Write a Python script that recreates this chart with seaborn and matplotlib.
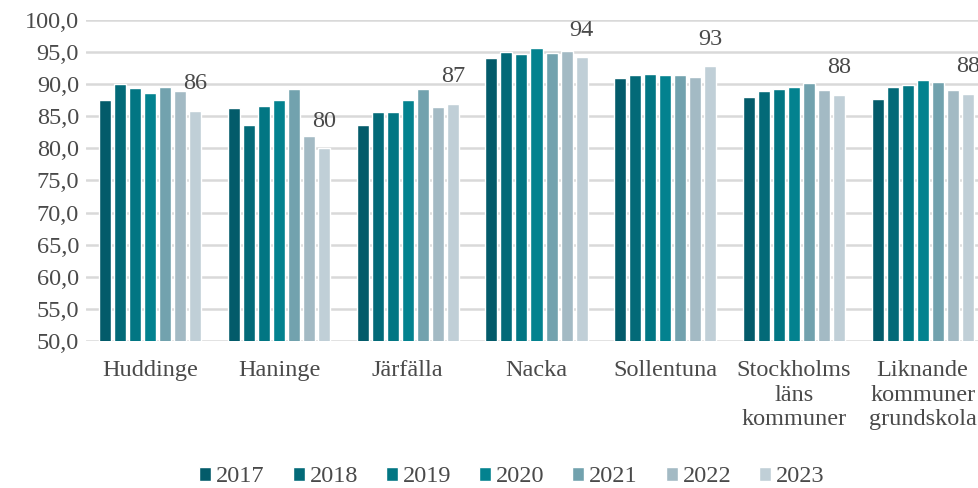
import matplotlib
matplotlib.use("Agg")
import matplotlib.pyplot as plt
import seaborn as sns
import pandas as pd
from matplotlib.ticker import FuncFormatter, MultipleLocator

# values
kommuner = ["Huddinge", "Haninge", "Järfälla", "Nacka", "Sollentuna",
            "Stockholms\nläns\nkommuner", "Liknande\nkommuner\ngrundskola"]
years = ["2017", "2018", "2019", "2020", "2021", "2022", "2023"]
v2017 = [87.5, 86.3, 83.6, 94.1, 91.0, 88.0, 87.7]
v2018 = [90.0, 83.6, 85.7, 95.0, 91.4, 88.9, 89.6]
v2019 = [89.4, 86.6, 85.7, 94.7, 91.6, 89.3, 89.9]
v2020 = [88.6, 87.5, 87.5, 95.6, 91.4, 89.6, 90.7]
v2021 = [89.6, 89.3, 89.3, 94.9, 91.4, 90.2, 90.3]
v2022 = [88.9, 81.9, 86.4, 95.2, 91.1, 89.1, 89.1]
v2023 = [85.8, 80.0, 86.9, 94.2, 92.8, 88.3, 88.5]
colors = ["#035B6A", "#036A78", "#027683", "#03828F", "#72A2AE", "#A3BAC4", "#C0CFD7"]

series = [v2017, v2018, v2019, v2020, v2021, v2022, v2023]
df = pd.DataFrame(
    [(k, y, vals[i]) for y, vals in zip(years, series) for i, k in enumerate(kommuner)],
    columns=["kommun", "year", "value"],
)

sns.set_style("white")
plt.rcParams["font.family"] = ["Liberation Serif", "DejaVu Serif"]
text_color = "#4A4A4A"
fs = 17.5

fig = plt.figure(figsize=(9.79, 4.88), dpi=100)
ax = fig.add_axes([86 / 979, 1 - 341 / 488, 901 / 979, 321 / 488])

sns.barplot(data=df, x="kommun", y="value", hue="year", palette=colors,
            width=0.816, gap=0.2, saturation=1, ax=ax, legend=True,
            order=kommuner, hue_order=years)

ax.set_ylim(50, 100)
ax.set_xlim(-0.5, len(kommuner) - 0.5)
ax.yaxis.set_major_locator(MultipleLocator(5))
ax.yaxis.set_major_formatter(FuncFormatter(lambda v, p: f"{v:.1f}".replace(".", ",")))
ax.grid(axis="y", color="#D9D9D9", linewidth=1.8)
ax.set_axisbelow(True)
for s in ax.spines.values():
    s.set_visible(False)
ax.tick_params(axis="both", length=0, labelsize=fs, colors=text_color)
ax.tick_params(axis="y", pad=5)
ax.tick_params(axis="x", pad=14)
for lbl in ax.get_xticklabels():
    lbl.set_linespacing(1.2)
ax.set_xlabel("")
ax.set_ylabel("")

# data labels on the 2023 series
last = ax.containers[-1]
for bar, v in zip(last, v2023):
    ax.annotate(f"{v:.0f}", (bar.get_x() + bar.get_width() / 2, bar.get_height()),
                xytext=(0, 12), textcoords="offset points", ha="center", va="bottom",
                fontsize=fs, color=text_color, annotation_clip=False)

handles, labels = ax.get_legend_handles_labels()
ax.get_legend().remove()
fig.legend(handles, labels, loc="center", bbox_to_anchor=(512 / 979, 1 - 477 / 488),
           ncol=7, frameon=False, fontsize=fs, handlelength=0.5, handleheight=0.5,
           handletextpad=0.2, columnspacing=1.14, labelcolor=text_color)

fig.savefig("out.png", dpi=100)
